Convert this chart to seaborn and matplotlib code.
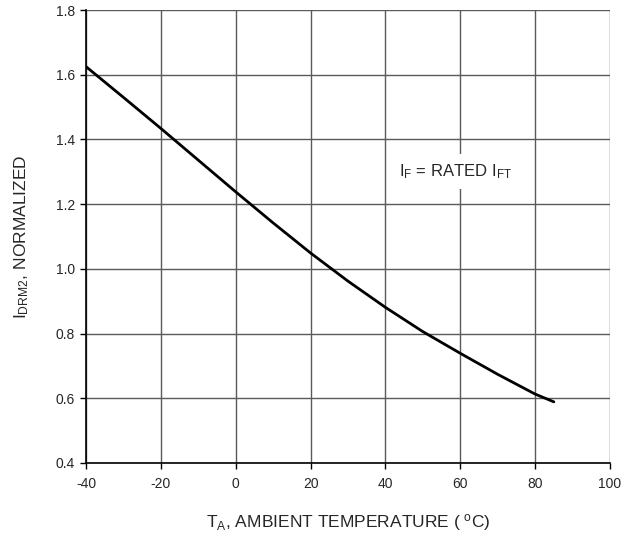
import numpy as np
import matplotlib
matplotlib.use("Agg")
import matplotlib.pyplot as plt
import seaborn as sns
import pandas as pd

# curve
temp_c = [-40, -30, -20, -10, 0, 10, 20, 30, 40, 50, 60, 70, 80, 85]
idrm2_norm = [1.625, 1.530, 1.434, 1.336, 1.238, 1.142, 1.049, 0.962, 0.881, 0.806, 0.739, 0.674, 0.613, 0.589]

x_ticks = [-40, -20, 0, 20, 40, 60, 80, 100]
y_ticks = [0.4, 0.6, 0.8, 1.0, 1.2, 1.4, 1.6, 1.8]

sns.set_style("white")
plt.rcParams['font.family'] = ['Liberation Sans', 'DejaVu Sans']
plt.rcParams['mathtext.fontset'] = 'custom'
plt.rcParams['mathtext.rm'] = 'Liberation Sans'
plt.rcParams['mathtext.it'] = 'Liberation Sans'

df = pd.DataFrame({'T': temp_c, 'I': idrm2_norm})

fig = plt.figure(figsize=(6.25, 5.33), dpi=100)
ax = fig.add_axes([86 / 625, 1 - 463 / 533, (610 - 86) / 625, (463 - 10) / 533])

sns.lineplot(data=df, x='T', y='I', ax=ax, color='black', linewidth=2.0, zorder=3)

ax.set_xlim(-40, 100)
ax.set_ylim(0.4, 1.8)
ax.set_xticks(x_ticks)
ax.set_yticks(y_ticks)
ax.set_xticklabels([str(t) for t in x_ticks])
ax.set_yticklabels([f"{t:.1f}" for t in y_ticks])
ax.grid(True, color='#5a5a5a', linewidth=1.0)
ax.set_axisbelow(True)

for side in ['left', 'bottom']:
    ax.spines[side].set_color('black')
    ax.spines[side].set_linewidth(1.2)
for side in ['top', 'right']:
    ax.spines[side].set_visible(False)

ax.tick_params(axis='both', which='both', direction='out', length=4, width=1,
               color='black', labelsize=10, bottom=True, left=True)
ax.tick_params(axis='x', pad=6)
ax.tick_params(axis='y', pad=4)

ax.set_xlabel(r"T$_\mathregular{A}$, AMBIENT TEMPERATURE ( $^\mathregular{o}$C)",
              fontsize=12.5, labelpad=15)
ax.set_ylabel(r"I$_\mathregular{DRM2}$, NORMALIZED", fontsize=12.5, labelpad=18)

ax.text(43.5, 1.30, r"I$_\mathregular{F}$ = RATED I$_\mathregular{FT}$", fontsize=12,
        va='center', ha='left', zorder=4,
        bbox=dict(facecolor='white', edgecolor='none', pad=6))

fig.savefig("out.png", dpi=100)
